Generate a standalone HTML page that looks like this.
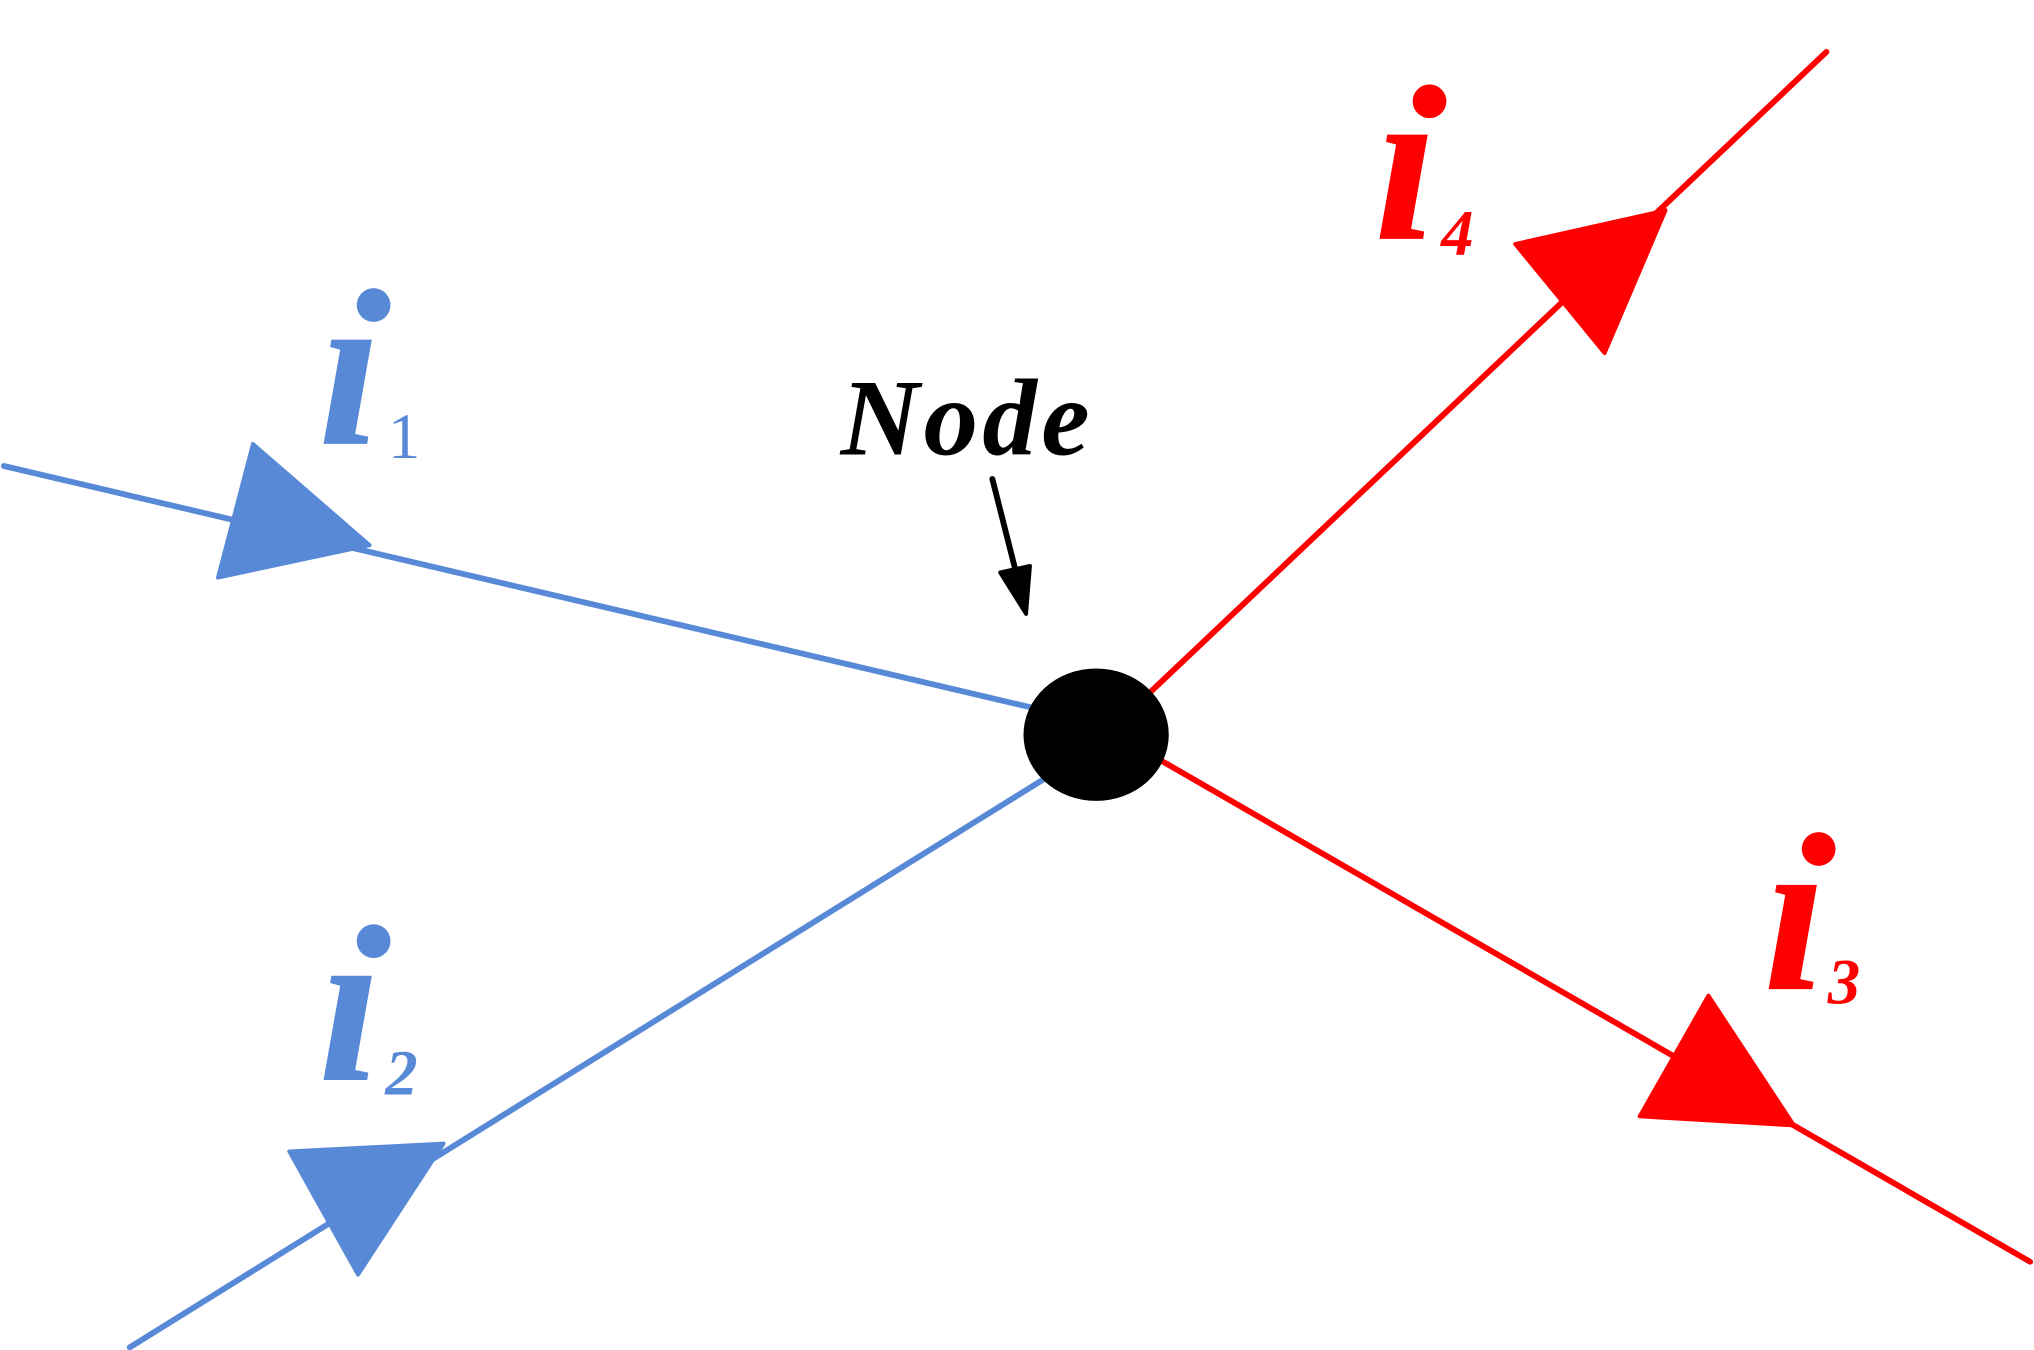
<!DOCTYPE html>
<html><head><meta charset="utf-8"><style>
html,body{margin:0;padding:0;background:#fff;}
svg{display:block;}
</style></head><body>
<svg width="2034" height="1350" viewBox="0 0 1568 1040" preserveAspectRatio="none" xmlns="http://www.w3.org/2000/svg" font-family="'Liberation Serif', 'Times New Roman', Times, serif">
<defs>
<clipPath id="c1"><rect x="200" y="252" width="160" height="120"/></clipPath>
<clipPath id="c2"><rect x="200" y="742" width="160" height="120"/></clipPath>
<clipPath id="c4"><rect x="1010" y="94" width="160" height="120"/></clipPath>
<clipPath id="c3"><rect x="1310" y="672" width="160" height="120"/></clipPath>
</defs>
<g stroke-linecap="round" stroke-width="4.5">
<line x1="3" y1="359" x2="795" y2="545" stroke="#5889d6"/>
<line x1="100" y1="1038" x2="805" y2="600" stroke="#5889d6"/>
<line x1="1408" y1="40" x2="887" y2="533" stroke="#ff0000"/>
<line x1="897" y1="587" x2="1565" y2="972" stroke="#ff0000"/>
<line x1="765" y1="369" x2="783" y2="440" stroke="#000"/>
</g>
<g stroke-linejoin="round" stroke-width="3">
<polygon points="195,342 285,420 168,445" fill="#5889d6" stroke="#5889d6"/>
<polygon points="223,887 342,881 276,982" fill="#5889d6" stroke="#5889d6"/>
<polygon points="1168,188 1284,162 1237,272" fill="#ff0000" stroke="#ff0000"/>
<polygon points="1317,767 1383,867 1264,860" fill="#ff0000" stroke="#ff0000"/>
<polygon points="771,441 794,436 791,473" fill="#000" stroke="#000"/>
</g>
<ellipse cx="845" cy="566" rx="56" ry="51" fill="#000"/>
<text x="648" y="350" font-size="84" font-weight="bold" font-style="italic" fill="#000" textLength="192" font-family="'Liberation Serif', serif">Node</text>
<g font-weight="bold" font-style="italic" font-family="'Liberation Serif', serif">
<circle cx="288" cy="235" r="13" fill="#5889d6"/>
<text x="245" y="342" font-size="175" fill="#5889d6" clip-path="url(#c1)">i</text>
<text x="299" y="353" font-size="50" font-style="normal" font-weight="normal" fill="#5889d6">1</text>
<circle cx="288" cy="725" r="13" fill="#5889d6"/>
<text x="245" y="832" font-size="175" fill="#5889d6" clip-path="url(#c2)">i</text>
<text x="297" y="843" font-size="50" fill="#5889d6">2</text>
<circle cx="1102" cy="78" r="13" fill="#ff0000"/>
<text x="1059" y="184" font-size="175" fill="#ff0000" clip-path="url(#c4)">i</text>
<text x="1111" y="196" font-size="50" fill="#ff0000">4</text>
<circle cx="1402" cy="654" r="13" fill="#ff0000"/>
<text x="1359" y="762" font-size="175" fill="#ff0000" clip-path="url(#c3)">i</text>
<text x="1409" y="773" font-size="50" fill="#ff0000">3</text>
</g>
</svg>
</body></html>
